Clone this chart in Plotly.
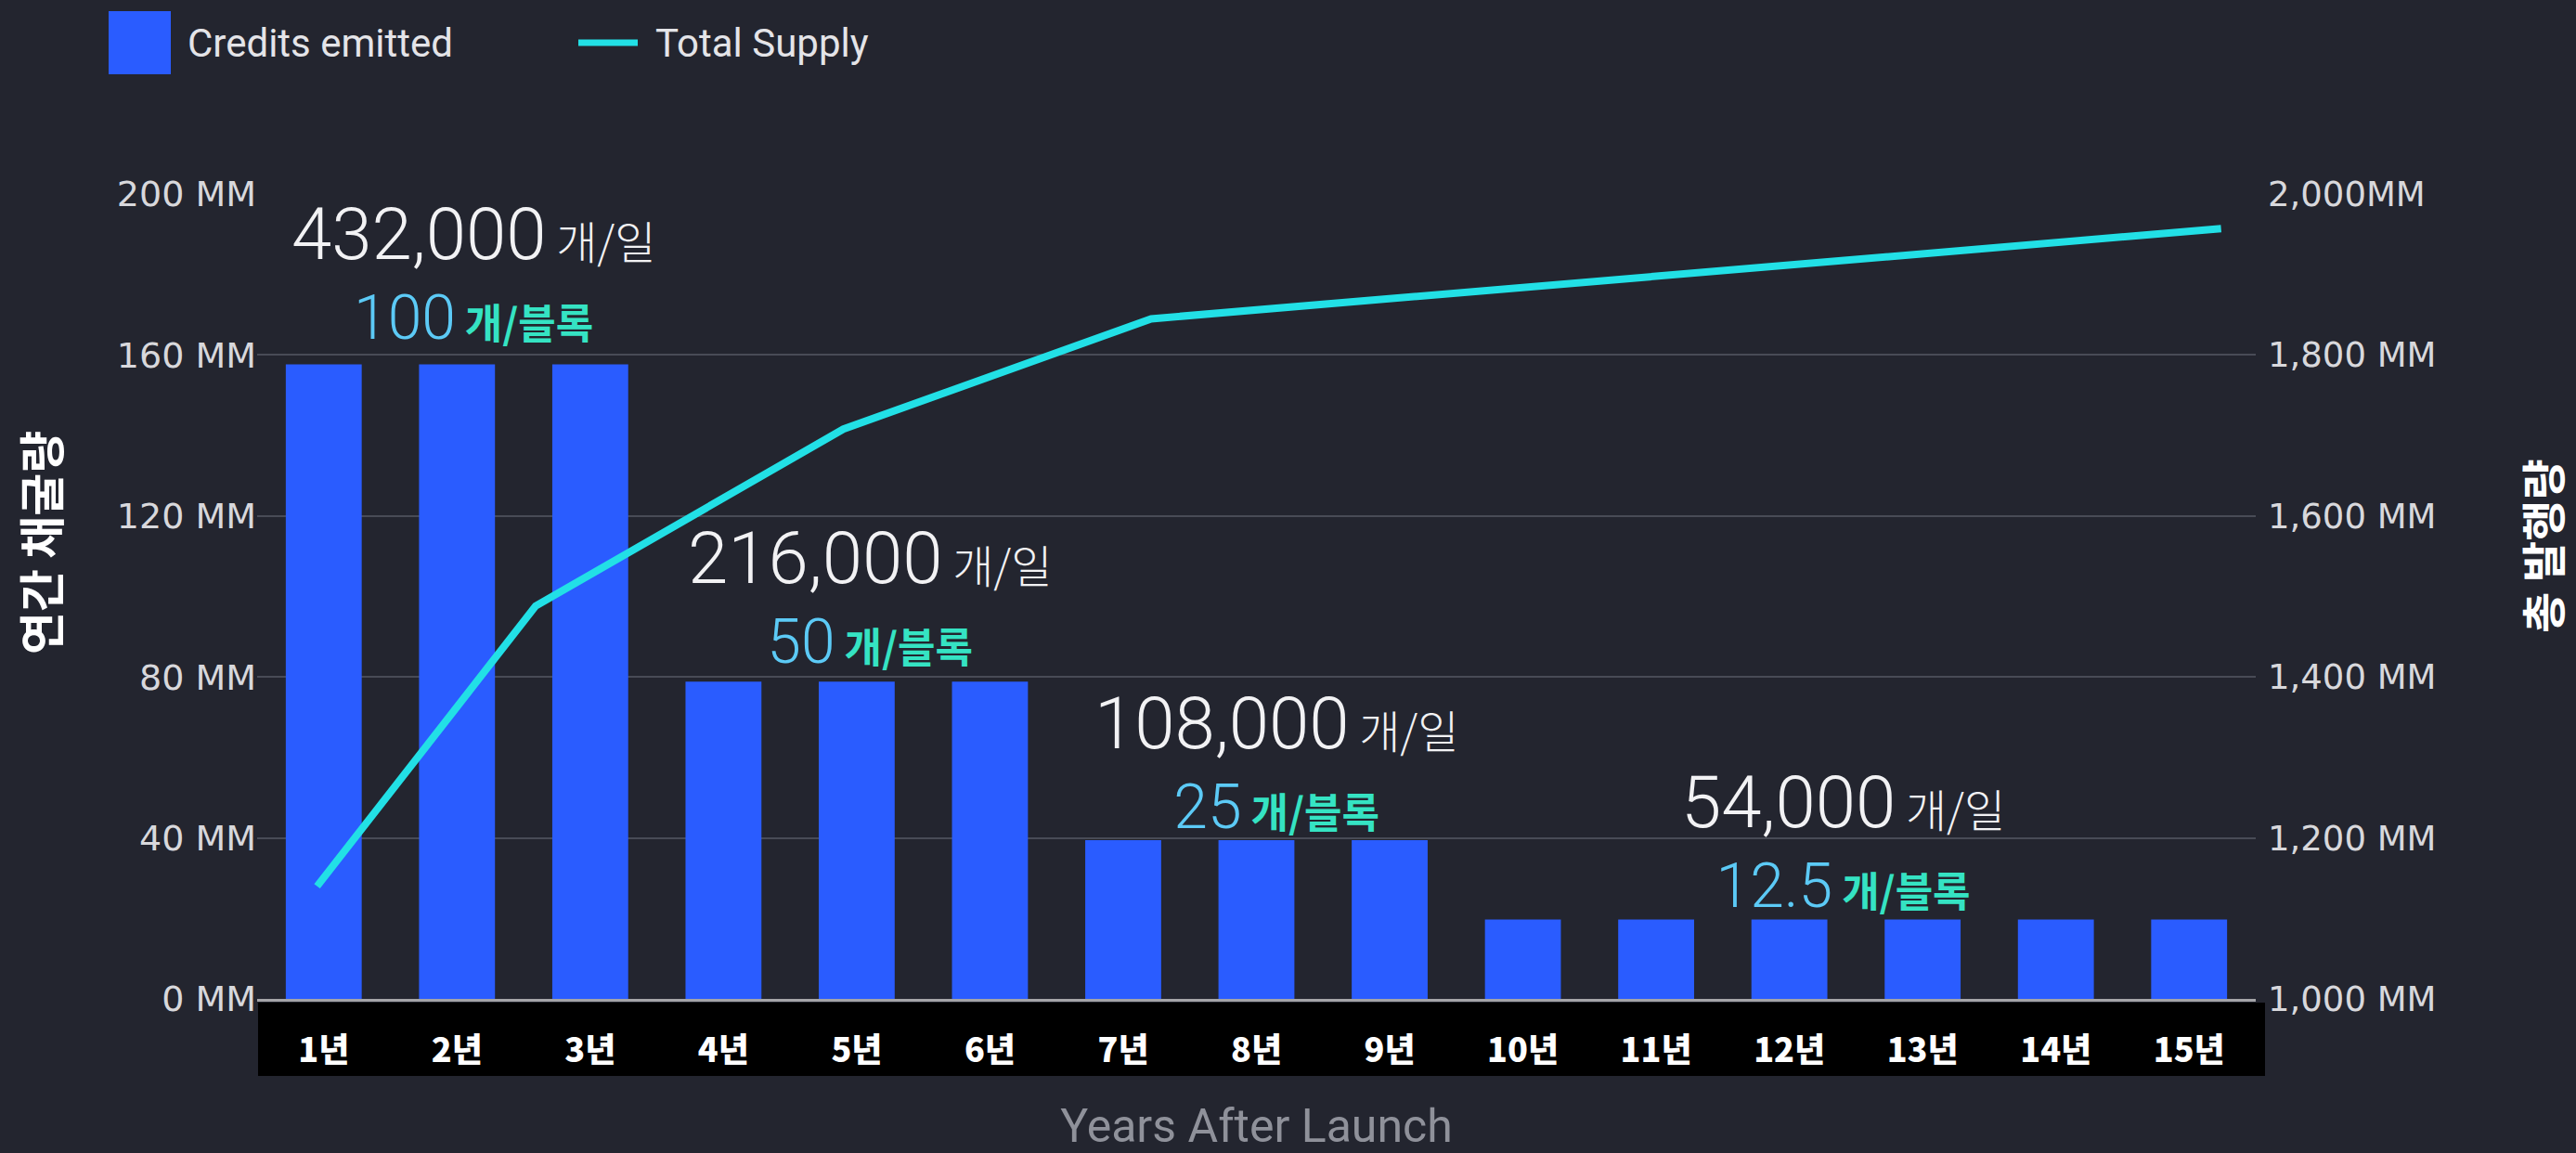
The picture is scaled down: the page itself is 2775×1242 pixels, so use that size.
import plotly.graph_objects as go

# ---------------- data ----------------
years = ["1년", "2년", "3년", "4년", "5년", "6년", "7년", "8년", "9년", "10년",
         "11년", "12년", "13년", "14년", "15년"]
credits_mm = [157.68, 157.68, 157.68, 78.84, 78.84, 78.84, 39.42, 39.42, 39.42,
              19.71, 19.71, 19.71, 19.71, 19.71, 19.71]

# Total supply line (positions, in "year" units)
supply_year = [0.95, 2.59, 4.90, 7.21, 15.24]
supply_mm = [1140, 1488, 1708, 1845, 1957]

left_tickvals = [0, 40, 80, 120, 160, 200]
left_ticktext = ["0 MM", "40 MM", "80 MM", "120 MM", "160 MM", "200 MM"]
right_tickvals = [1000, 1200, 1400, 1600, 1800, 2000]
right_ticktext = ["1,000 MM", "1,200 MM", "1,400 MM", "1,600 MM", "1,800 MM", "2,000MM"]

per_day = ["432,000", "216,000", "108,000", "54,000"]
per_block = ["100", "50", "25", "12.5"]
day_unit = "개/일"
block_unit = "개/블록"

# ---------------- layout constants ----------------
W, H = 2775, 1242
ML, MR, MT, MB = 277, 345, 209, 166
PW, PH = W - ML - MR, H - MT - MB

BG = "#23252f"
BAR = "#2a5cff"
LINE = "#22e0e6"
GRID = "#484b56"
TXT = "#d8d8dc"
NUM_BLUE = "#5ccaf6"
UNIT_TEAL = "#35e3c3"


def px_x(x):
    return (x - ML) / PW


def px_y(y):
    return (H - MB - y) / PH


x_pos = list(range(1, len(years) + 1))

fig = go.Figure()
fig.add_trace(go.Bar(
    x=x_pos, y=credits_mm, name="Credits emitted",
    marker=dict(color=BAR, line=dict(width=0)),
    showlegend=False,
))
fig.add_trace(go.Scatter(
    x=supply_year, y=supply_mm, name="Total Supply", yaxis="y2",
    mode="lines", line=dict(color=LINE, width=8),
    showlegend=False,
))

# rate annotations (two lines each: per day / per block)
label_pos = [(2.12, 180.3), (5.10, 99.9), (8.15, 58.8), (12.40, 39.2)]
annotations = []
for d, b, (ax, ay) in zip(per_day, per_block, label_pos):
    text = (
        f"<span style='font-family:Roboto;font-size:78px;color:#f2f2f4'>{d}</span>"
        f"<span style='font-size:48px;color:#f2f2f4'> {day_unit}</span><br>"
        f"<span style='font-family:Roboto;font-size:66px;color:{NUM_BLUE}'>{b}</span>"
        f"<span style='font-size:44px;color:{UNIT_TEAL};font-weight:bold'> {block_unit}</span>"
    )
    annotations.append(dict(
        x=ax, y=ay, xref="x", yref="y", showarrow=False,
        xanchor="center", yanchor="middle", align="center",
        text=text,
        font=dict(family="Noto Sans CJK KR", color="#f2f2f4", size=66, weight=300),
    ))

# axis titles
annotations.append(dict(
    x=px_x(42), y=px_y(585), xref="paper", yref="paper", showarrow=False,
    xanchor="center", yanchor="middle", textangle=-90, text="연간 채굴량",
    font=dict(family="Noto Sans CJK KR", size=50, color="#ffffff", weight=700),
))
annotations.append(dict(
    x=px_x(2737), y=px_y(588), xref="paper", yref="paper", showarrow=False,
    xanchor="center", yanchor="middle", textangle=-90, text="총 발행량",
    font=dict(family="Noto Sans CJK KR", size=48, color="#ffffff", weight=700),
))

# custom legend text
annotations.append(dict(
    x=px_x(200), y=px_y(46), xref="paper", yref="paper", showarrow=False,
    xanchor="left", yanchor="middle", text="Credits emitted",
    font=dict(family="Roboto", size=42, color="#e4e4e8"),
))
annotations.append(dict(
    x=px_x(704), y=px_y(46), xref="paper", yref="paper", showarrow=False,
    xanchor="left", yanchor="middle", text="Total Supply",
    font=dict(family="Roboto", size=42, color="#e4e4e8"),
))

shapes = [
    # black band behind the x tick labels
    dict(type="rect", xref="paper", yref="paper",
         x0=px_x(278), x1=px_x(2440), y0=px_y(1159), y1=px_y(1080),
         fillcolor="#000000", line=dict(width=0), layer="below"),
    # legend square
    dict(type="rect", xref="paper", yref="paper",
         x0=px_x(117), x1=px_x(184), y0=px_y(80), y1=px_y(12),
         fillcolor=BAR, line=dict(width=0)),
    # legend line
    dict(type="line", xref="paper", yref="paper",
         x0=px_x(623), x1=px_x(687), y0=px_y(46), y1=px_y(46),
         line=dict(color=LINE, width=7)),
]

fig.update_layout(
    width=W, height=H,
    margin=dict(l=ML, r=MR, t=MT, b=MB, pad=0),
    paper_bgcolor=BG, plot_bgcolor=BG,
    bargap=0.43,
    showlegend=False,
    annotations=annotations,
    shapes=shapes,
    xaxis=dict(
        range=[0.5, len(years) + 0.5],
        tickvals=x_pos, ticktext=years,
        tickfont=dict(family="Noto Sans CJK KR", size=36, color="#ffffff", weight=900),
        ticks="", ticklabelstandoff=22,
        showgrid=False, zeroline=False,
        showline=True, linecolor="#a4a4a8", linewidth=3,
        title=dict(text="Years After Launch", standoff=46,
                   font=dict(family="Roboto", size=50, color="#8f919a")),
        automargin=False,
    ),
    yaxis=dict(
        range=[0, 200],
        tickvals=left_tickvals, ticktext=left_ticktext,
        tickfont=dict(family="DejaVu Sans", size=38, color=TXT),
        showgrid=True, gridcolor=GRID, gridwidth=2,
        zeroline=False, showline=False, ticks="",
        automargin=False,
    ),
    yaxis2=dict(
        range=[1000, 2000], overlaying="y", side="right",
        tickvals=right_tickvals, ticktext=right_ticktext,
        tickfont=dict(family="DejaVu Sans", size=37, color=TXT),
        showgrid=False, zeroline=False, showline=False, ticks="",
        ticklabelstandoff=12,
        automargin=False,
    ),
)

fig.write_html("out.html", config={"displayModeBar": False},
               post_script="document.body.style.margin='0';")
